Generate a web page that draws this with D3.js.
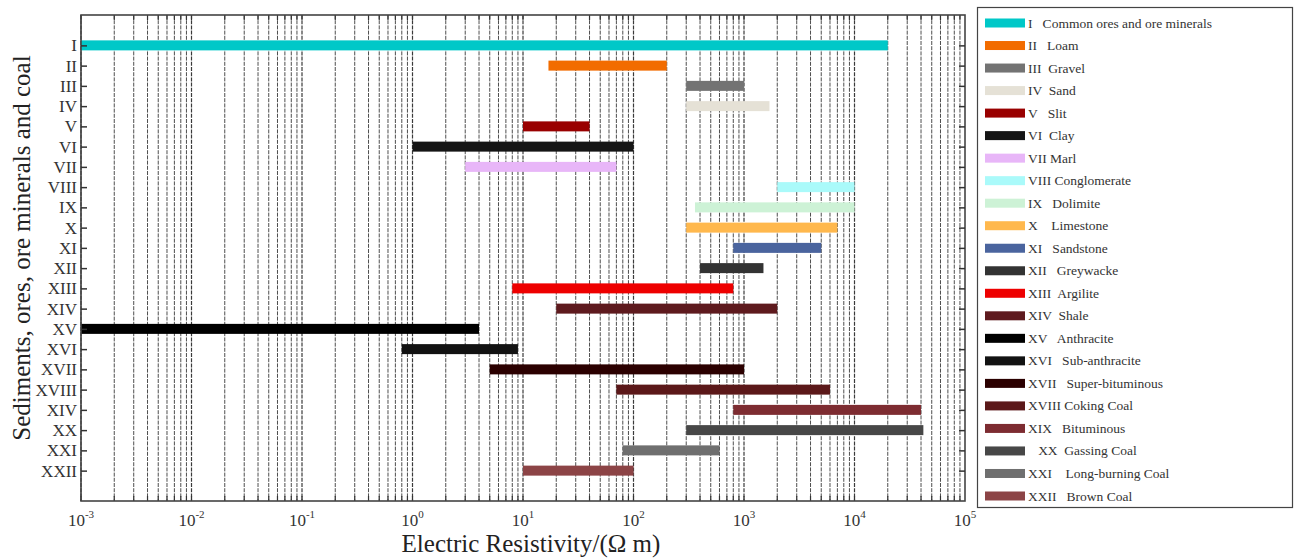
<!DOCTYPE html>
<html>
<head>
<meta charset="utf-8">
<script src="https://cdn.jsdelivr.net/npm/d3@7"></script>
<style>
  body { margin: 0; background: #fff; }
  svg { display: block; font-family: "Liberation Serif", "DejaVu Serif", serif; }
</style>
</head>
<body>
<div id="chart"></div>
<script>
// row labels on the y axis (as printed, incl. the "XIV" on row 19)
const rowLabels = ["I", "II", "III", "IV", "V", "VI", "VII", "VIII", "IX", "X", "XI",
    "XII", "XIII", "XIV", "XV", "XVI", "XVII", "XVIII", "XIV", "XX", "XXI", "XXII"];

// legend texts
const legendLabels = [
    "I   Common ores and ore minerals",
    "II   Loam",
    "III  Gravel",
    "IV  Sand",
    "V   Slit",
    "VI  Clay",
    "VII Marl",
    "VIII Conglomerate",
    "IX   Dolimite",
    "X    Limestone",
    "XI   Sandstone",
    "XII   Greywacke",
    "XIII  Argilite",
    "XIV  Shale",
    "XV   Anthracite",
    "XVI   Sub-anthracite",
    "XVII   Super-bituminous",
    "XVIII Coking Coal",
    "XIX   Bituminous",
    "   XX  Gassing Coal",
    "XXI    Long-burning Coal",
    "XXII   Brown Coal"
];

// resistivity ranges in Ohm m
const lowValues = [1e-3, 17, 300, 300, 10, 1, 3, 2000, 360, 300, 800,
    400, 8, 20, 1e-3, 0.8, 5, 70, 800, 300, 80, 10];
const highValues = [2e4, 200, 1000, 1700, 40, 100, 70, 1e4, 1e4, 7000, 5000,
    1500, 800, 2000, 4, 9, 1000, 6000, 40000, 42000, 600, 100];

const colors = ["#00c8c8", "#f26c00", "#737373", "#e5e1d6", "#990000", "#151515",
    "#e8b6f8", "#aafafa", "#cdf2d6", "#ffb84d", "#4a649e", "#333333", "#ee0000",
    "#5e1a1e", "#000000", "#121212", "#2b0000", "#5b1819", "#7d2c31", "#474747",
    "#6f6f6f", "#8c4446"];

const decades = [-3, -2, -1, 0, 1, 2, 3, 4, 5];

const width = 1298;
const height = 558;
const margin = { top: 15, right: 333, bottom: 57, left: 81 };
const plotRight = width - margin.right;
const plotBottom = height - margin.bottom;

const rows = rowLabels.map((label, i) => ({
    id: i,
    label: label,
    low: lowValues[i],
    high: highValues[i],
    color: colors[i],
    legend: legendLabels[i]
}));

const x = d3.scaleLog()
    .domain([1e-3, 1e5])
    .range([margin.left, plotRight]);

const y = d3.scalePoint()
    .domain(rows.map(d => d.id))
    .range([margin.top, plotBottom])
    .padding(1.5);

const svg = d3.create("svg")
    .attr("width", width)
    .attr("height", height);

// grid lines on every 1..9 x 10^k
const gridValues = [];
decades.slice(0, -1).forEach(k => {
    for (let m = 1; m <= 9; m++) gridValues.push(m * Math.pow(10, k));
});

svg.append("g")
    .selectAll("line")
    .data(gridValues)
    .join("line")
    .attr("x1", d => x(d))
    .attr("x2", d => x(d))
    .attr("y1", margin.top)
    .attr("y2", plotBottom)
    .attr("stroke", "#3a3a3a")
    .attr("stroke-width", d => Math.abs(Math.log10(d) % 1) < 1e-9 ? 1.2 : 0.9)
    .attr("stroke-dasharray", "4,1.2");

// small inner ticks top and bottom
svg.append("g")
    .selectAll("path")
    .data(gridValues)
    .join("path")
    .attr("d", d => `M${x(d)},${margin.top}v5M${x(d)},${plotBottom}v-5`)
    .attr("stroke", "#333")
    .attr("stroke-width", 1.2);

// bars
svg.append("g")
    .selectAll("rect")
    .data(rows)
    .join("rect")
    .attr("x", d => x(d.low))
    .attr("width", d => x(d.high) - x(d.low))
    .attr("y", d => y(d.id) - 5)
    .attr("height", 10)
    .attr("fill", d => d.color);

// frame
svg.append("rect")
    .attr("x", margin.left)
    .attr("y", margin.top)
    .attr("width", plotRight - margin.left)
    .attr("height", plotBottom - margin.top)
    .attr("fill", "none")
    .attr("stroke", "#444")
    .attr("stroke-width", 1.6);

// y axis with inner ticks
const yAxis = svg.append("g")
    .attr("transform", `translate(${margin.left},0)`)
    .call(d3.axisLeft(y).tickSize(-6).tickPadding(4).tickFormat(i => rowLabels[i]));
yAxis.select(".domain").remove();
yAxis.selectAll(".tick line").attr("stroke", "#333").attr("stroke-width", 1.5);
yAxis.selectAll(".tick text")
    .attr("font-family", "Liberation Serif")
    .attr("font-size", 17)
    .attr("fill", "#333");

// right side inner ticks
const yRight = svg.append("g")
    .attr("transform", `translate(${plotRight},0)`)
    .call(d3.axisRight(y).tickSize(-6).tickFormat(""));
yRight.select(".domain").remove();
yRight.selectAll(".tick line").attr("stroke", "#333").attr("stroke-width", 1.5);

// x tick labels 10^k
const xLabels = svg.append("g")
    .selectAll("text")
    .data(decades)
    .join("text")
    .attr("x", d => x(Math.pow(10, d)))
    .attr("y", 526)
    .attr("text-anchor", "middle")
    .attr("fill", "#333")
    .attr("font-size", 17);
xLabels.append("tspan").text("10");
xLabels.append("tspan")
    .attr("dy", -8)
    .attr("font-size", 11)
    .text(d => d);

// axis titles
svg.append("text")
    .attr("x", (margin.left + plotRight) / 2 + 8)
    .attr("y", 552)
    .attr("text-anchor", "middle")
    .attr("font-size", 25)
    .attr("fill", "#222")
    .text("Electric Resistivity/(\u03A9 m)");

svg.append("text")
    .attr("transform", "translate(30,248) rotate(-90)")
    .attr("text-anchor", "middle")
    .attr("font-size", 25)
    .attr("fill", "#222")
    .text("Sediments, ores, ore minerals and coal");

// legend
const legend = svg.append("g");
legend.append("rect")
    .attr("x", 977.5)
    .attr("y", 7.5)
    .attr("width", 315)
    .attr("height", 500)
    .attr("fill", "#fff")
    .attr("stroke", "#444")
    .attr("stroke-width", 1.2);

const legendY = d3.scalePoint()
    .domain(rows.map(d => d.id))
    .range([23, 496]);

const items = legend.selectAll("g.item")
    .data(rows)
    .join("g")
    .attr("class", "item")
    .attr("transform", d => `translate(985,${legendY(d.id)})`);

items.append("rect")
    .attr("x", 0)
    .attr("y", -4.5)
    .attr("width", 40)
    .attr("height", 9)
    .attr("fill", d => d.color);

items.append("text")
    .attr("x", 43)
    .attr("y", 4.5)
    .attr("font-size", 13.5)
    .attr("fill", "#333")
    .style("white-space", "pre")
    .text(d => d.legend);

d3.select("#chart").node().append(svg.node());
</script>
</body>
</html>
